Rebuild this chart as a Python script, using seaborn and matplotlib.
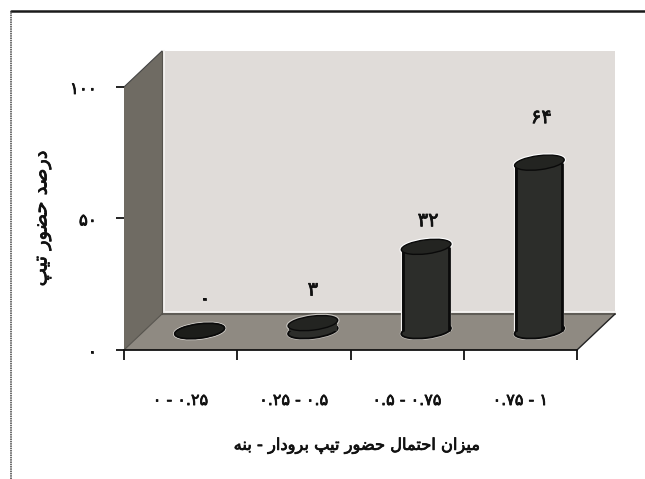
import matplotlib
matplotlib.use("Agg")
import matplotlib.pyplot as plt
import matplotlib.patheffects as pe
import seaborn as sns
from matplotlib.patches import Ellipse, Polygon
from matplotlib.lines import Line2D
from matplotlib.transforms import Affine2D, IdentityTransform

categories = ["۰ - ۰.۲۵", "۰.۲۵ - ۰.۵", "۰.۵ - ۰.۷۵", "۰.۷۵ - ۱"]
values = [0, 3, 32, 64]
value_labels = ["۰", "۳", "۳۲", "۶۴"]
y_ticks = [0, 50, 100]
y_tick_labels = ["۰", "۵۰", "۱۰۰"]
x_title = "میزان احتمال حضور تیپ برودار - بنه"
y_title = "درصد حضور تیپ"

FORMS = {  # isolated, final, initial, medial
    "م": (0xFEE1, 0xFEE2, 0xFEE3, 0xFEE4), "ی": (0xFBFC, 0xFBFD, 0xFBFE, 0xFBFF),
    "ن": (0xFEE5, 0xFEE6, 0xFEE7, 0xFEE8), "ح": (0xFEA1, 0xFEA2, 0xFEA3, 0xFEA4),
    "ت": (0xFE95, 0xFE96, 0xFE97, 0xFE98), "ل": (0xFEDD, 0xFEDE, 0xFEDF, 0xFEE0),
    "ض": (0xFEBD, 0xFEBE, 0xFEBF, 0xFEC0), "ص": (0xFEB9, 0xFEBA, 0xFEBB, 0xFEBC),
    "پ": (0xFB56, 0xFB57, 0xFB58, 0xFB59), "ب": (0xFE8F, 0xFE90, 0xFE91, 0xFE92),
    "ه": (0xFEE9, 0xFEEA, 0xFEEB, 0xFEEC), "ز": (0xFEAF, 0xFEB0), "ا": (0xFE8D, 0xFE8E),
    "و": (0xFEED, 0xFEEE), "ر": (0xFEAD, 0xFEAE), "د": (0xFEA9, 0xFEAA),
}


def shape(text):
    out = []
    for i, ch in enumerate(text):
        if ch not in FORMS:
            out.append(ch)
            continue
        prev = text[i - 1] if i else " "
        nxt = text[i + 1] if i + 1 < len(text) else " "
        after = prev in FORMS and len(FORMS[prev]) == 4
        before = nxt in FORMS and len(FORMS[ch]) == 4
        idx = {(0, 0): 0, (1, 0): 1, (0, 1): 2, (1, 1): 3}[(int(after), int(before))]
        out.append(chr(FORMS[ch][idx]))
    return "".join(reversed(out))


sns.set_theme(style="white")
plt.rcParams["font.family"] = ["DejaVu Sans"]
W, H = 645, 479
INK = "#111111"
thick = [pe.withStroke(linewidth=0.55, foreground=INK)]
fig = plt.figure(figsize=(W / 100, H / 100), dpi=100, facecolor="white")
ax = fig.add_axes([124 / W, (H - 350) / H, 453 / W, 263 / H])
ax.patch.set_visible(False)

BAR = "#2c2d2a"
sns.barplot(x=categories, y=values, color=BAR, saturation=1, width=0.424, ax=ax, zorder=4)
ax.set_xlim(-0.5, 3.5)
ax.set_ylim(0, 100)
ax.set_xlabel("")
ax.set_ylabel("")

# 3D box
DX, DY = 38, 36
fig.canvas.draw()
to_px = ax.transData.transform
(x0, y0), (x1, y1) = to_px((-0.5, 0)), to_px((3.5, 100))
ident = IdentityTransform()
for pts, col, z in [
    ([(x0 + DX, y0 + DY), (x1 + DX, y0 + DY), (x1 + DX, y1 + DY), (x0 + DX, y1 + DY)], "#e0dcd9", 0.1),
    ([(x0, y0), (x0 + DX, y0 + DY), (x0 + DX, y1 + DY), (x0, y1)], "#6f6b63", 0.2),
    ([(x0, y0), (x1, y0), (x1 + DX, y0 + DY), (x0 + DX, y0 + DY)], "#8f8a82", 0.3),
]:
    ax.add_patch(Polygon(pts, closed=True, facecolor=col, edgecolor="none", transform=ident, clip_on=False, zorder=z))
for xs, ys, col, lw, z in [
    ([x0 + DX + 1.5] * 2, [y0 + DY + 2, y1 + DY], "#f2f0ee", 1.5, 0.25),
    ([x0 + DX + 2, x1 + DX], [y0 + DY + 2.5] * 2, "#f4f2f0", 1.5, 0.15),
    ([x0 + DX, x1 + DX], [y0 + DY] * 2, "#5f5c56", 1.5, 0.35),
    ([x0 + DX, x0 + DX], [y0 + DY, y1 + DY], "#55524c", 0.8, 0.35),
    ([x1, x1 + DX], [y0, y0 + DY], "#222222", 1.0, 0.4),
    ([x0, x0 + DX], [y1, y1 + DY], "#444444", 0.8, 0.4),
    ([x0, x0 + DX], [y0, y0 + DY], "#55524c", 0.8, 0.4),
]:
    ax.add_line(Line2D(xs, ys, color=col, lw=lw, transform=ident, clip_on=False, zorder=z))

# cylinders
BX, BY = 19, 19
shift = ax.transData + Affine2D().translate(BX, BY)
EW, EH, ANG = 50, 14, 7
INSET = 0.008
for bar, v in zip(ax.patches, values):
    bar.set_transform(shift)
    bar.set_clip_on(False)
    bar.set_edgecolor("none")
    bar.set_zorder(4)
    xc = bar.get_x() + bar.get_width() / 2
    xl, xr = bar.get_x() + INSET, bar.get_x() + bar.get_width() - INSET
    (cx, cb), (_, ct) = to_px((xc, 0)), to_px((xc, v))
    cx += BX
    cb += BY
    ct += BY
    for cy, face, edge, z, lw in [
        (cb, "#c9c6c1", "#c9c6c1", 2, 2.2),
        (ct, "#ffffff" if v > 5 else "#c9c6c1", "#ffffff" if v > 5 else "#c9c6c1", 2, 2.6),
        (cb, BAR if v > 0 else "#1c1d1a", "#0a0a0a", 3, 1.3),
        (ct, "#232421" if v > 0 else "#1c1d1a", "#0a0a0a", 6, 1.0),
    ]:
        ax.add_patch(Ellipse((cx, cy), EW, EH, angle=ANG, facecolor=face, edgecolor=edge, lw=lw,
                             transform=ident, clip_on=False, zorder=z))
    if v > 5:
        for xs in (xl, xr):
            ax.plot([xs, xs], [0, v], color="#f4f2f0", lw=3.0, transform=shift, clip_on=False, zorder=2, solid_capstyle="butt")
            ax.plot([xs, xs], [0, v], color="#0a0a0a", lw=2.0, transform=shift, clip_on=False, zorder=5, solid_capstyle="butt")

# value labels (offset in pixels from each cylinder top)
label_offsets = [(5, 51), (0, 52), (2, 45), (2, 64)]
for i, (v, t, off) in enumerate(zip(values, value_labels, label_offsets)):
    ax.annotate(t, (i, v), xytext=(off[0] + BX, off[1]), textcoords="offset pixels",
                ha="center", va="center", fontsize=14, color=INK, path_effects=thick,
                annotation_clip=False, zorder=8)

# axes
sns.despine(ax=ax, top=True, right=True)
ax.spines["left"].set_visible(False)
ax.spines["bottom"].set_color(INK)
ax.spines["bottom"].set_linewidth(1.3)
ax.spines["bottom"].set_zorder(7)
ax.set_yticks(y_ticks, y_tick_labels)
ax.tick_params(axis="y", length=5.5, width=1.3, color=INK, left=True, pad=14, labelsize=12, labelcolor=INK)
for lab in ax.get_yticklabels():
    lab.set_path_effects(thick)
ax.set_xticks([-0.5, 0.5, 1.5, 2.5, 3.5], [""] * 5)
ax.set_xticks([0, 1, 2, 3], categories, minor=True)
ax.tick_params(axis="x", which="major", length=7.5, width=1.3, color=INK, bottom=True)
ax.tick_params(axis="x", which="minor", length=0, pad=31, labelsize=11.5, labelcolor=INK)
for lab in ax.get_xticklabels(minor=True):
    lab.set_path_effects(thick)

fig.text(357 / W, (H - 446) / H, shape(x_title), ha="center", va="center", fontsize=11.7, color=INK, path_effects=thick)
fig.text(42 / W, (H - 218) / H, shape(y_title), ha="center", va="center", rotation=90, fontsize=14, color=INK, path_effects=thick)

# outer frame
fig.add_artist(Line2D([11 / W, 1], [(H - 11) / H] * 2, color="#1a1a1a", lw=1.8, transform=fig.transFigure))
fig.add_artist(Line2D([11 / W, 11 / W], [0, (H - 11) / H], color="#444444", lw=1.1, ls=(0, (1, 0.5)), transform=fig.transFigure))

fig.savefig("out.png", dpi=100, facecolor="white")
